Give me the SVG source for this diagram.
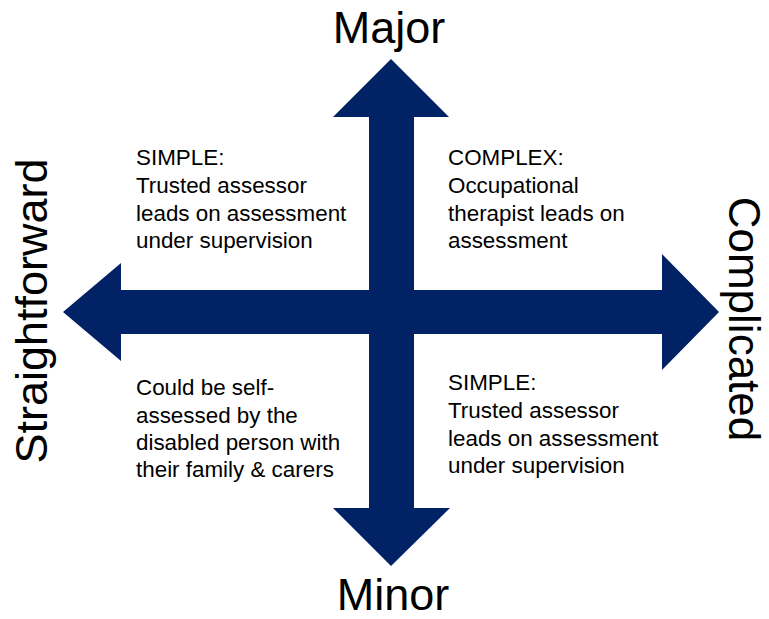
<svg xmlns="http://www.w3.org/2000/svg" width="769" height="619" viewBox="0 0 769 619">
<style>
.arrow{fill:#022266;stroke:none}
.axis{font-family:"Liberation Sans",Arial,sans-serif;font-size:45px;fill:#000}
.q{font-family:"Liberation Sans",Arial,sans-serif;font-size:22.4px;fill:#000}
</style>
<rect width="769" height="619" fill="#fff"/>
<g id="connectors">
<polygon class="arrow" points="391,59 449,117 414,117 414,508 450,508 391,566 333,508 369,508 369,117 333,117"/>
<polygon class="arrow" points="63,312 121,263 121,290 662,290 662,254 719,312 662,370 662,334 121,334 121,361"/>
</g>
<g id="axis-labels">
<text class="axis" x="389" y="43" text-anchor="middle">Major</text>
<text class="axis" x="393" y="610" text-anchor="middle">Minor</text>
<text class="axis" transform="translate(47,311) rotate(-90)" text-anchor="middle">Straightforward</text>
<text class="axis" transform="translate(729,319) rotate(90)" text-anchor="middle" style="font-size:44px">Complicated</text>
</g>
<g id="q-top-left">
<text class="q" x="136" y="165">SIMPLE:</text>
<text class="q" x="136" y="193">Trusted assessor</text>
<text class="q" x="136" y="221">leads on assessment</text>
<text class="q" x="136" y="248">under supervision</text>
</g>
<g id="q-top-right">
<text class="q" x="448" y="165">COMPLEX:</text>
<text class="q" x="448" y="193">Occupational</text>
<text class="q" x="448" y="221">therapist leads on</text>
<text class="q" x="448" y="248">assessment</text>
</g>
<g id="q-bottom-left">
<text class="q" x="136" y="395">Could be self-</text>
<text class="q" x="136" y="423">assessed by the</text>
<text class="q" x="136" y="450">disabled person with</text>
<text class="q" x="136" y="477">their family &amp; carers</text>
</g>
<g id="q-bottom-right">
<text class="q" x="448" y="390">SIMPLE:</text>
<text class="q" x="448" y="418">Trusted assessor</text>
<text class="q" x="448" y="446">leads on assessment</text>
<text class="q" x="448" y="473">under supervision</text>
</g>
</svg>
